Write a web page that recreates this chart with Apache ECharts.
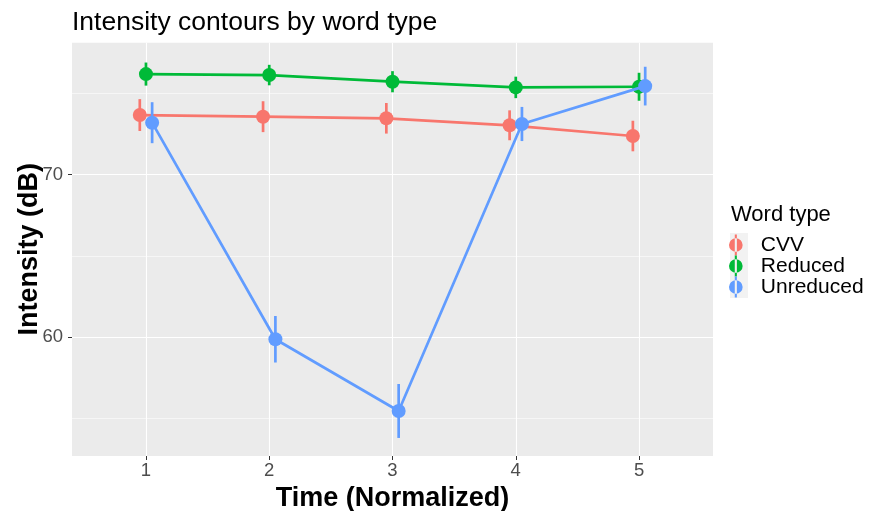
<!DOCTYPE html>
<html>
<head>
<meta charset="utf-8">
<script src="https://cdn.jsdelivr.net/npm/echarts@6/dist/echarts.min.js"></script>
<style>
  html, body { margin: 0; padding: 0; background: #fff; }
  #chart { width: 873px; height: 511px; }
</style>
</head>
<body>
<div id="chart"></div>
<script>
// ---- data ----
const timePoints = [1, 2, 3, 4, 5];
const groups = ['CVV', 'Reduced', 'Unreduced'];
const cvvMean = [73.67, 73.57, 73.47, 73.04, 72.38];
const cvvErr = [0.98, 0.95, 0.94, 0.92, 0.94];
const reducedMean = [76.19, 76.13, 75.72, 75.37, 75.41];
const reducedErr = [0.71, 0.63, 0.65, 0.66, 0.86];
const unreducedMean = [73.2, 59.88, 55.47, 73.12, 75.45];
const unreducedErr = [1.26, 1.43, 1.66, 1.05, 1.19];
const yMajorTicks = [60, 70];
const yMinorTicks = [55, 65, 75];

// ---- config ----
const colors = ['#F8766D', '#00BA38', '#619CFF'];
const dodge = [-0.05, 0, 0.05];
const font = '"Liberation Sans", Arial, Helvetica, sans-serif';
const xRange = [0.4, 5.6];
const yRange = [52.7, 78.12];

const means = [cvvMean, reducedMean, unreducedMean];
const errs = [cvvErr, reducedErr, unreducedErr];

const series = [];
groups.forEach((g, gi) => {
  series.push({
    name: g,
    type: 'line',
    data: timePoints.map((t, i) => [t + dodge[gi], means[gi][i]]),
    symbol: 'circle',
    symbolSize: 14,
    lineStyle: { color: colors[gi], width: 2.7 },
    itemStyle: { color: colors[gi] },
    z: 2 + gi,
    animation: false,
    silent: true
  });
  series.push({
    name: g,
    type: 'custom',
    data: timePoints.map((t, i) => [t + dodge[gi], means[gi][i] - errs[gi][i], means[gi][i] + errs[gi][i]]),
    renderItem: (params, api) => {
      const p1 = api.coord([api.value(0), api.value(1)]);
      const p2 = api.coord([api.value(0), api.value(2)]);
      return {
        type: 'line',
        shape: { x1: p1[0], y1: p1[1], x2: p2[0], y2: p2[1] },
        style: { stroke: colors[gi], lineWidth: 2.7 }
      };
    },
    itemStyle: { color: colors[gi] },
    z: 2 + gi,
    animation: false,
    silent: true
  });
});

const keyIcon = 'path://M9,0h2v20h-2z M10,3.5a6.5,6.5 0 1,0 0.001,0z';

const option = {
  animation: false,
  backgroundColor: '#ffffff',
  textStyle: { fontFamily: font },
  title: [
    {
      text: 'Intensity contours by word type',
      left: 72, top: 9, padding: 0,
      textStyle: { fontFamily: font, fontSize: 26.5, fontWeight: 'normal', color: '#000' }
    },
    {
      text: 'Word type',
      left: 731, top: 204, padding: 0,
      textStyle: { fontFamily: font, fontSize: 22, fontWeight: 'normal', color: '#000' }
    }
  ],
  graphic: [
    { type: 'rect', left: 730, top: 233, shape: { width: 18, height: 65 }, style: { fill: '#F2F2F2' }, z: 0 }
  ],
  legend: {
    orient: 'vertical',
    left: 729, top: 234.5, padding: 0,
    itemWidth: 20, itemHeight: 21, itemGap: 0,
    data: groups.map(g => ({ name: g, icon: keyIcon })),
    textStyle: { fontFamily: font, fontSize: 21, color: '#000', padding: [0, 0, 0, 10] },
    selectedMode: false
  },
  grid: {
    left: 72, right: 160, top: 42.7, bottom: 55,
    outerBoundsMode: 'none', containLabel: false,
    show: true, backgroundColor: '#EBEBEB', borderWidth: 0
  },
  xAxis: {
    type: 'value',
    min: xRange[0], max: xRange[1],
    name: 'Time (Normalized)', nameLocation: 'middle', nameGap: 29, nameMoveOverlap: false,
    nameTextStyle: { fontFamily: font, fontSize: 27, fontWeight: 'bold', color: '#000' },
    axisLine: { show: false },
    axisTick: { show: true, customValues: timePoints, length: 4, lineStyle: { color: '#333', width: 1 } },
    axisLabel: { customValues: timePoints, margin: 5, fontFamily: font, fontSize: 18.5, color: '#4D4D4D' },
    splitLine: { show: true, lineStyle: { color: '#ffffff', width: 1.1 } }
  },
  yAxis: [
    {
      type: 'value',
      min: yRange[0], max: yRange[1],
      name: 'Intensity (dB)', nameLocation: 'middle', nameGap: 29, nameMoveOverlap: false,
      nameTextStyle: { fontFamily: font, fontSize: 27, fontWeight: 'bold', color: '#000' },
      axisLine: { show: false },
      axisTick: { show: true, customValues: yMajorTicks, length: 4, lineStyle: { color: '#333', width: 1 } },
      axisLabel: { customValues: yMajorTicks, margin: 9, fontFamily: font, fontSize: 18.5, color: '#4D4D4D' },
      splitLine: { show: true, lineStyle: { color: '#ffffff', width: 1.1 } }
    },
    {
      type: 'value',
      min: yRange[0], max: yRange[1],
      position: 'left',
      axisLine: { show: false },
      axisTick: { show: false, customValues: yMinorTicks },
      axisLabel: { show: false, customValues: yMinorTicks },
      splitLine: { show: true, lineStyle: { color: '#ffffff', width: 0.55 } }
    }
  ],
  series: series
};

const chart = echarts.init(document.getElementById('chart'), null, { renderer: 'canvas' });
chart.setOption(option);
</script>
</body>
</html>
